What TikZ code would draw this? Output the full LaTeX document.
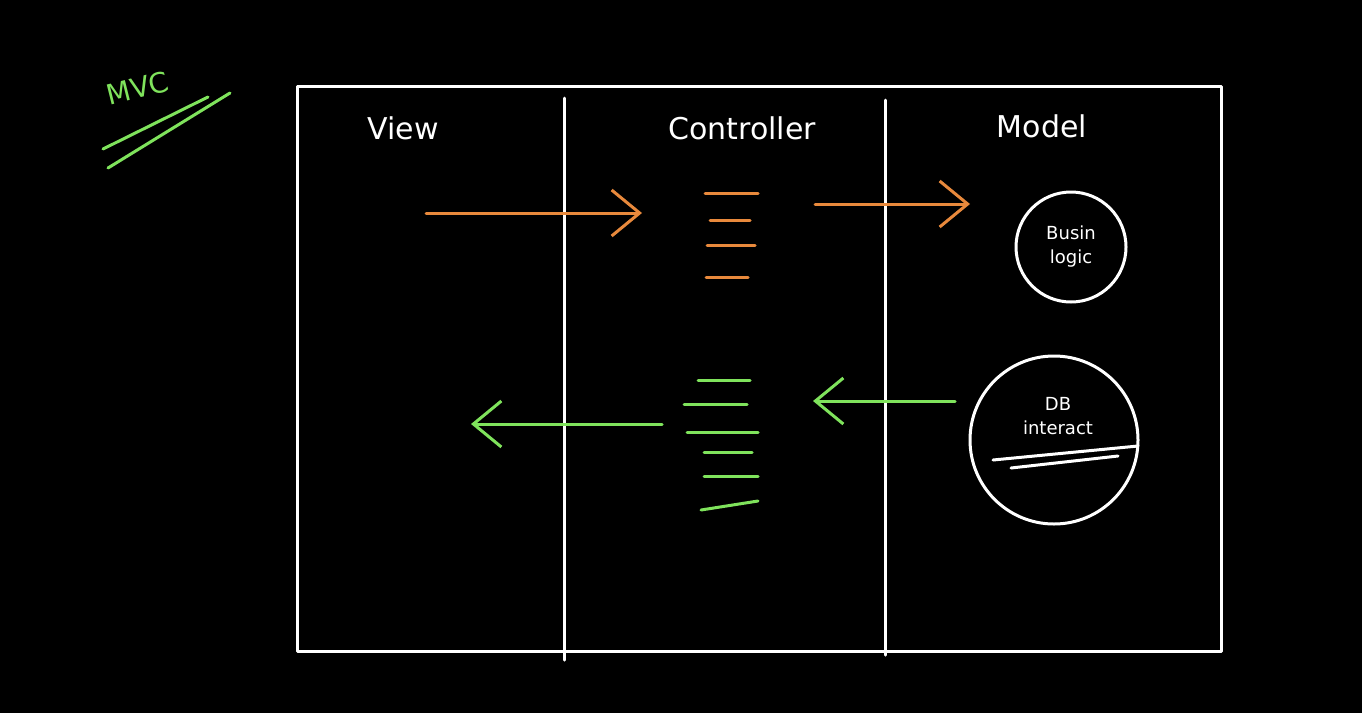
\documentclass[tikz,border=0pt]{standalone}
\usepackage{fontspec}
\setmainfont{DejaVu Sans}
\usetikzlibrary{arrows.meta}
\definecolor{chalkorange}{HTML}{E8893C}
\definecolor{chalkgreen}{HTML}{7FE35C}
\tikzset{
  chalk/.style={line width=3pt, line cap=round, line join=round},
  wline/.style={chalk, draw=white},
  oline/.style={chalk, draw=chalkorange},
  gline/.style={chalk, draw=chalkgreen},
  barb/.style={-{Straight Barb[length=28pt,width=46pt,line width=3pt]}},
  lbl/.style={text=white, font=\fontsize{30}{34}\selectfont, inner sep=0pt},
  small/.style={text=white, font=\fontsize{18}{24}\selectfont, inner sep=0pt, align=center},
}
\begin{document}
\begin{tikzpicture}[x=1pt,y=-1pt]
\fill[black] (0,0) rectangle (1362,713);
\useasboundingbox (0,0) rectangle (1362,713);
% frame
\node[wline, draw, minimum width=924pt, minimum height=565pt, anchor=north west, inner sep=0pt] (frame) at (296,85) {};
\coordinate (d1t) at (564,98); \coordinate (d1b) at (564,660);
\coordinate (d2t) at (885,100); \coordinate (d2b) at (885,655);
\draw[wline] (d1t) -- (d1b);
\draw[wline] (d2t) -- (d2b);
% headings
\node[lbl] (view) at (403,128) {View};
\node[lbl] (ctrl) at (742,128) {Controller};
\node[lbl] (model) at (1042,126) {Model};
% MVC
\node[text=chalkgreen, font=\fontsize{28}{32}\selectfont, rotate=14, inner sep=0pt] (mvc) at (138,88) {MVC};
\coordinate (m1a) at (103,149); \coordinate (m1b) at (208,97);
\coordinate (m2a) at (108,168); \coordinate (m2b) at (230,93);
\draw[gline] (m1a) -- (m1b);
\draw[gline] (m2a) -- (m2b);
% circles
\node[wline, draw, circle, minimum size=110pt, small] (biz) at (1071,247) {Busin\\logic};
\node[wline, draw, circle, minimum size=168pt, inner sep=0pt] (db) at (1054,440) {};
\node[small] (dbt) at (1058,416) {DB\\interact};
\coordinate (u1a) at (993,460); \coordinate (u1b) at (1138,446);
\coordinate (u2a) at (1011,468); \coordinate (u2b) at (1118,456);
\draw[wline] (u1a) -- (u1b);
\draw[wline] (u2a) -- (u2b);
% orange arrows
\coordinate (oa1) at (426,213); \coordinate (oa2) at (642,213);
\draw[oline, barb] (oa1) -- (oa2);
\coordinate (ob1) at (815,204); \coordinate (ob2) at (970,204);
\draw[oline, barb] (ob1) -- (ob2);
% orange dashes
\coordinate (o1a) at (705,193); \coordinate (o1b) at (758,193);
\coordinate (o2a) at (710,220); \coordinate (o2b) at (750,220);
\coordinate (o3a) at (707,245); \coordinate (o3b) at (755,245);
\coordinate (o4a) at (706,277); \coordinate (o4b) at (748,277);
\foreach \i in {1,2,3,4} \draw[oline] (o\i a) -- (o\i b);
% green arrows
\coordinate (ga1) at (955,401); \coordinate (ga2) at (813,401);
\draw[gline, barb] (ga1) -- (ga2);
\coordinate (gb1) at (662,424); \coordinate (gb2) at (471,424);
\draw[gline, barb] (gb1) -- (gb2);
% green dashes
\coordinate (g1a) at (698,380); \coordinate (g1b) at (750,380);
\coordinate (g2a) at (684,404); \coordinate (g2b) at (747,404);
\coordinate (g3a) at (687,432); \coordinate (g3b) at (758,432);
\coordinate (g4a) at (704,452); \coordinate (g4b) at (752,452);
\coordinate (g5a) at (704,476); \coordinate (g5b) at (758,476);
\coordinate (g6a) at (701,510); \coordinate (g6b) at (758,501);
\foreach \i in {1,...,6} \draw[gline] (g\i a) -- (g\i b);
\end{tikzpicture}
\end{document}
